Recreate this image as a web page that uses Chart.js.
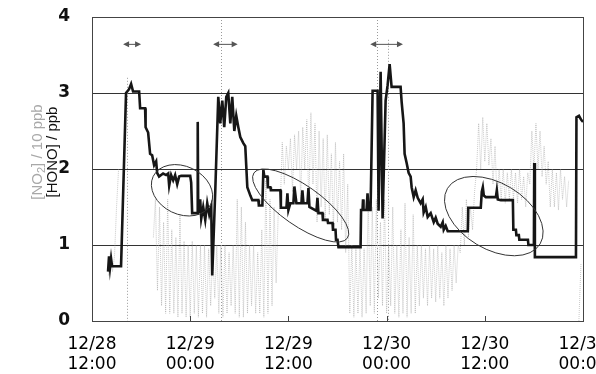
<!DOCTYPE html>
<html>
<head>
<meta charset="utf-8">
<script src="https://cdn.jsdelivr.net/npm/chart.js@4.4.1/dist/chart.umd.min.js"></script>
<style>
  html, body { margin: 0; padding: 0; background: #fff; }
  #wrap { width: 596px; height: 374px; }
</style>
</head>
<body>
<div id="wrap"><canvas id="myChart" width="596" height="374"></canvas></div>
<script>
// hours since 12/28 12:00
var tickHours = [0, 12, 24, 36, 48, 60];
var tickLabels = [['12/28', '12:00'], ['12/29', '00:00'], ['12/29', '12:00'], ['12/30', '00:00'], ['12/30', '12:00'], ['12/31', '00:00']];

// [HONO] / ppb (black)
var honoHours = [1.96, 2.08, 2.20, 2.33, 2.45, 3.55, 4.16, 4.53, 4.78, 5.02, 5.76, 5.88, 6.49, 6.55, 6.86, 7.10, 7.35, 7.59, 7.84, 7.96,
  8.20, 8.69, 9.06, 9.31, 9.43, 9.67, 9.92, 10.16, 10.41, 10.65, 10.90, 12.00, 12.12, 12.24, 12.86, 12.92, 12.98, 13.22, 13.35, 13.59,
  13.84, 14.08, 14.33, 14.57, 14.69, 15.06, 15.43, 15.67, 15.92, 16.16, 16.41, 16.65, 16.90, 17.14, 17.39, 17.63, 17.88, 18.12, 18.49, 18.73,
  18.98, 19.35, 19.59, 20.33, 20.39, 20.82, 20.94, 21.06, 21.43, 21.49, 21.80, 21.86, 23.02, 23.08, 23.76, 23.88, 24.00, 24.24, 24.61, 24.73,
  24.98, 25.59, 25.71, 25.84, 26.33, 26.45, 26.57, 27.43, 27.55, 27.67, 28.16, 28.22, 28.78, 28.84, 29.39, 29.45, 29.76, 29.82, 30.00, 30.12,
  32.82, 32.88, 33.06, 33.12, 33.18, 33.55, 33.67, 33.80, 34.04, 34.29, 34.90, 35.02, 35.27, 35.51, 35.88, 36.12, 36.37, 36.61, 37.71, 37.84,
  38.08, 38.20, 38.45, 38.69, 38.94, 39.06, 39.31, 39.55, 39.80, 40.16, 40.41, 40.53, 40.78, 41.02, 41.39, 41.76, 42.00, 42.24, 42.61, 42.86,
  42.98, 43.22, 43.47, 45.92, 45.98, 47.51, 47.63, 47.76, 47.88, 48.12, 49.35, 49.47, 49.59, 49.96, 51.43, 51.49, 51.80, 51.86, 52.16, 52.22,
  53.27, 53.33, 54.00, 54.04, 54.12, 59.14, 59.20, 59.51, 59.76, 60.00];
var honoValues = [0.65, 0.85, 0.70, 0.82, 0.72, 0.72, 3.00, 3.05, 3.12, 3.02, 3.02, 2.80, 2.80, 2.55, 2.48, 2.20, 2.18, 2.05, 2.10, 1.95,
  1.90, 1.94, 1.92, 1.94, 1.78, 1.92, 1.85, 1.92, 1.80, 1.90, 1.91, 1.91, 1.82, 1.42, 1.42, 2.62, 1.42, 1.60, 1.35, 1.50,
  1.33, 1.55, 1.40, 1.50, 0.60, 1.70, 2.95, 2.60, 2.90, 2.55, 2.95, 3.00, 2.60, 2.95, 2.50, 2.70, 2.55, 2.42, 2.34, 2.30,
  1.76, 1.65, 1.59, 1.59, 1.52, 1.52, 1.99, 1.90, 1.90, 1.76, 1.76, 1.72, 1.72, 1.49, 1.49, 1.68, 1.46, 1.55, 1.55, 1.77,
  1.55, 1.55, 1.72, 1.55, 1.55, 1.75, 1.50, 1.45, 1.62, 1.42, 1.42, 1.33, 1.33, 1.29, 1.29, 1.20, 1.20, 1.07, 1.07, 0.97,
  0.97, 1.46, 1.46, 1.60, 1.46, 1.46, 1.68, 1.46, 1.46, 3.03, 3.03, 1.45, 3.28, 1.35, 2.90, 3.10, 3.38, 3.08, 3.08, 2.88,
  2.60, 2.20, 2.08, 1.95, 1.90, 1.76, 1.63, 1.72, 1.62, 1.55, 1.60, 1.43, 1.50, 1.37, 1.42, 1.30, 1.36, 1.28, 1.24, 1.30,
  1.20, 1.25, 1.18, 1.18, 1.49, 1.49, 1.70, 1.76, 1.65, 1.63, 1.63, 1.72, 1.60, 1.59, 1.59, 1.20, 1.20, 1.13, 1.13, 1.07,
  1.07, 1.00, 1.00, 2.08, 0.84, 0.84, 2.68, 2.70, 2.65, 2.62];

// [NO2] / 10 ppb (grey), low and high of the noisy trace every half hour
var no2Step = 0.5;
var no2Low = [null, null, null, null, 0.6, 0.65, 1.5, null, null, null, null, null, null, null, null, 1.1, 0.4, 0.2, 0.1, 0.1,
  0.1, 0.05, 0.1, 0.05, 0.05, 0.1, 0.05, 0.1, 0.05, 0.2, 0.3, 0.1, 0.05, 0.1, 0.2, 0.1, 0.05, 0.05, 0.1, 0.2,
  0.1, 0.1, 0.05, 0.1, 0.2, 0.5, 1.5, 1.8, 2.0, 1.7, 2.0, 1.6, 2.0, 1.5, 1.8, 1.3, 1.5, 1.3, 1.4, 1.2,
  1.3, 1.2, 0.9, 0.1, 0.05, 0.1, 0.05, 0.1, 0.2, 0.1, 0.3, 0.2, 0.1, 0.2, 0.1, 0.05, 0.1, 0.05, 0.1, 0.1,
  0.2, 0.3, 0.2, 0.3, 0.25, 0.3, 0.2, 0.3, 0.4, 0.5, 0.9, 1.0, 1.1, 1.2, 2.0, 2.0, 2.1, 2.05, 1.8, 1.6,
  1.6, 1.55, 1.6, 1.6, 1.55, 1.6, 1.5, 1.8, 2.0, 2.0, 1.9, 1.8, 1.5, 1.5, 1.46, 1.6, 1.5, null, null, 0.0, null];
var no2High = [null, null, null, null, 0.9, 0.85, 2.0, null, null, null, null, null, null, null, null, 1.6, 1.5, 1.3, 1.6, 1.2,
  1.1, 1.4, 1.05, 1.0, 1.05, 1.0, 1.0, 1.0, 0.95, 0.9, 1.0, 1.0, 1.0, 0.9, 1.0, 1.6, 1.5, 1.3, 1.0, 1.0,
  0.9, 1.2, 1.85, 1.6, 1.5, 1.4, 2.35, 2.3, 2.4, 2.45, 2.5, 2.55, 2.65, 2.74, 2.6, 2.5, 2.4, 2.45, 2.2, 2.35,
  2.1, 2.2, 1.8, 1.0, 0.95, 1.0, 0.95, 1.6, 1.5, 1.6, 1.3, 1.6, 1.0, 1.5, 1.0, 1.2, 1.55, 1.1, 1.4, 1.0,
  1.0, 0.95, 1.0, 0.95, 1.0, 0.9, 1.0, 0.95, 1.0, 1.0, 1.5, 1.6, 1.5, 1.7, 2.6, 2.68, 2.6, 2.4, 2.3, 2.0,
  2.0, 1.95, 2.0, 1.95, 2.0, 1.9, 1.95, 2.5, 2.6, 2.5, 2.3, 2.1, 2.0, 1.95, 2.0, 1.9, 1.85, null, null, 0.75, null];

// annotations
var eventLineHours = [4.3, 15.8, 34.8, 36.2];
var eventLineTops = [3.2, 4, 4, 3.7];
var arrowFrom = [3.8, 14.8, 34.0];
var arrowTo = [6.0, 17.8, 38.0];
var arrowLevel = 3.64;
var ellipseHours = [11.0, 25.5, 49.1];
var ellipseValues = [1.72, 1.52, 1.38];

var honoData = honoHours.map(function (h, i) { return { x: h, y: honoValues[i] }; });
var no2Data = [];
no2Low.forEach(function (lo, i) {
  var t = i * no2Step;
  no2Data.push({ x: t, y: lo });
  no2Data.push({ x: t + no2Step / 2, y: no2High[i] });
});

var decor = {
  id: 'decor',
  beforeDatasetsDraw: function (chart) {
    var ctx = chart.ctx, xs = chart.scales.x, ys = chart.scales.y;
    ctx.save();
    ctx.strokeStyle = '#9a9a9a';
    ctx.lineWidth = 1;
    ctx.setLineDash([1, 2]);
    eventLineHours.forEach(function (h, i) {
      var px = Math.round(xs.getPixelForValue(h)) + 0.5;
      ctx.beginPath();
      ctx.moveTo(px, ys.getPixelForValue(eventLineTops[i]));
      ctx.lineTo(px, ys.getPixelForValue(0));
      ctx.stroke();
    });
    ctx.restore();
  },
  afterDatasetsDraw: function (chart) {
    var ctx = chart.ctx, xs = chart.scales.x, ys = chart.scales.y, a = chart.chartArea;
    ctx.save();
    // ellipses
    var radii = [[32, 24, 0.45], [57, 20, 0.61], [54, 33, 0.54]];
    ctx.strokeStyle = '#333';
    ctx.lineWidth = 1;
    ellipseHours.forEach(function (h, i) {
      ctx.beginPath();
      ctx.ellipse(xs.getPixelForValue(h), ys.getPixelForValue(ellipseValues[i]), radii[i][0], radii[i][1], radii[i][2], 0, Math.PI * 2);
      ctx.stroke();
    });
    // arrows
    ctx.strokeStyle = '#555';
    ctx.fillStyle = '#555';
    var py = ys.getPixelForValue(arrowLevel);
    arrowFrom.forEach(function (h, i) {
      var x1 = xs.getPixelForValue(h), x2 = xs.getPixelForValue(arrowTo[i]);
      ctx.beginPath();
      ctx.moveTo(x1 + 3, py);
      ctx.lineTo(x2 - 3, py);
      ctx.stroke();
      ctx.beginPath();
      ctx.moveTo(x1, py); ctx.lineTo(x1 + 6, py - 3); ctx.lineTo(x1 + 6, py + 3); ctx.closePath();
      ctx.moveTo(x2, py); ctx.lineTo(x2 - 6, py - 3); ctx.lineTo(x2 - 6, py + 3); ctx.closePath();
      ctx.fill();
    });
    // frame and inner ticks
    ctx.strokeStyle = '#444';
    ctx.strokeRect(Math.round(a.left) + 0.5, Math.round(a.top) + 0.5, Math.round(a.right - a.left), Math.round(a.bottom - a.top));
    ctx.beginPath();
    tickHours.forEach(function (h) {
      var px = Math.round(xs.getPixelForValue(h)) + 0.5;
      ctx.moveTo(px, a.bottom);
      ctx.lineTo(px, a.bottom - 5);
    });
    ctx.stroke();
    ctx.restore();
  },
  afterDraw: function (chart) {
    var ctx = chart.ctx;
    ctx.save();
    ctx.textBaseline = 'middle';
    // grey title
    ctx.translate(38, 152);
    ctx.rotate(-Math.PI / 2);
    ctx.fillStyle = '#a8a8a8';
    var big = '15px "Liberation Sans", Arial, sans-serif', small = '11px "Liberation Sans", Arial, sans-serif';
    ctx.font = big;
    var p1 = '[NO', p3 = '] / 10 ppb';
    var w1 = ctx.measureText(p1).width, w3 = ctx.measureText(p3).width;
    ctx.font = small;
    var w2 = ctx.measureText('2').width;
    var x0 = -(w1 + w2 + w3) / 2;
    ctx.font = big;
    ctx.textAlign = 'left';
    ctx.fillText(p1, x0, 0);
    ctx.font = small;
    ctx.fillText('2', x0 + w1, 4);
    ctx.font = big;
    ctx.fillText(p3, x0 + w1 + w2, 0);
    ctx.restore();
    // black title
    ctx.save();
    ctx.translate(53, 152);
    ctx.rotate(-Math.PI / 2);
    ctx.fillStyle = '#111';
    ctx.font = '15px "Liberation Sans", Arial, sans-serif';
    ctx.textAlign = 'center';
    ctx.textBaseline = 'middle';
    ctx.fillText('[HONO] / ppb', 0, 0);
    ctx.restore();
  }
};

var ctx = document.getElementById('myChart');
var myChart = new Chart(ctx, {
  type: 'line',
  data: {
    datasets: [{
      label: 'HONO',
      data: honoData,
      borderColor: '#161616',
      borderWidth: 2.6,
      pointRadius: 0,
      tension: 0,
      order: 0
    }, {
      label: 'NO2/10',
      data: no2Data,
      borderColor: 'rgba(150,150,150,0.5)',
      borderWidth: 1,
      borderDash: [1, 1],
      pointRadius: 0,
      tension: 0,
      spanGaps: false,
      order: 1
    }]
  },
  options: {
    responsive: false,
    animation: false,
    events: [],
    layout: { autoPadding: false, padding: { top: 17, right: 13, left: 0, bottom: 0 } },
    plugins: { legend: { display: false }, title: { display: false }, tooltip: { enabled: false } },
    scales: {
      x: {
        type: 'linear',
        min: 0,
        max: 60,
        afterBuildTicks: function (scale) {
          scale.ticks = tickHours.map(function (v) { return { value: v }; });
        },
        afterFit: function (scale) {
          scale.height = 53;
          scale.paddingLeft = 0;
          scale.paddingRight = 0;
          scale.paddingTop = 0;
          scale.paddingBottom = 0;
        },
        grid: { display: false, drawTicks: false },
        border: { display: false },
        ticks: {
          maxRotation: 0,
          autoSkip: false,
          padding: 14,
          color: '#000',
          font: { family: '"DejaVu Sans", sans-serif', size: 17, lineHeight: 1.15 },
          callback: function (value) { return tickLabels[tickHours.indexOf(value)]; }
        }
      },
      y: {
        min: 0,
        max: 4,
        afterFit: function (scale) {
          scale.width = 92;
          scale.paddingTop = 0;
          scale.paddingBottom = 0;
        },
        grid: { color: '#333', lineWidth: 1, drawTicks: false },
        border: { display: false },
        ticks: {
          stepSize: 1,
          padding: 22,
          color: '#111',
          font: { family: '"DejaVu Sans", sans-serif', size: 17, weight: 'bold' }
        }
      }
    }
  },
  plugins: [decor]
});
</script>
</body>
</html>
